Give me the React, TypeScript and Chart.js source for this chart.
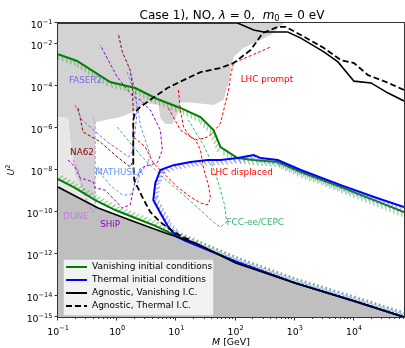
import React, { useEffect, useRef } from 'react';
import { Chart, registerables } from 'chart.js';
Chart.register(...registerables);

// axis ranges and ticks
const X_MIN = 0.1;
const X_MAX = 7e4;
const Y_MIN = 1e-15;
const Y_MAX = 0.1;
const X_TICKS = [0.1, 1, 10, 100, 1000, 10000];
const Y_TICKS = [1e-1, 1e-2, 1e-4, 1e-6, 1e-8, 1e-10, 1e-12, 1e-14, 1e-15];

// Vanishing initial conditions (green), upper and lower branch
const GREEN_UP_M = [0.1, 0.21, 0.76, 2.02, 4.76, 11.7, 25.5, 42.4, 55.7, 108, 202, 515, 1265, 6030, 21800, 7e4];
const GREEN_UP_U = [3.3e-3, 1.55e-3, 1.55e-4, 8.0e-5, 2.4e-5, 9.0e-6, 3.3e-6, 8.0e-7, 1.24e-7, 3.7e-8, 3.0e-8, 2.4e-8, 8.0e-9, 1.55e-9, 3.7e-10, 1.0e-10];
const GREEN_LO_M = [0.1, 0.194, 0.424, 0.925, 2.02, 4.4, 10, 104, 1000, 1e4, 7e4];
const GREEN_LO_U = [3.7e-9, 1.4e-9, 3.7e-10, 1.24e-10, 5.2e-11, 2.2e-11, 7.2e-12, 4.2e-13, 4.2e-14, 5.8e-15, 1.0e-15];

// Thermal initial conditions (blue)
const BLUE_M = [7e4, 21800, 6030, 1265, 515, 265, 202, 108, 55.7, 33.5, 17.3, 8.89, 5.36, 4.4, 4.07, 5.36, 7.32, 10.4, 14.2, 104, 1000, 1e4, 7e4];
const BLUE_U = [1.7e-10, 5.2e-10, 1.9e-9, 1.0e-8, 3.0e-8, 3.7e-8, 5.2e-8, 3.7e-8, 3.0e-8, 3.0e-8, 2.4e-8, 1.7e-8, 1.0e-8, 2.4e-9, 3.7e-10, 9.0e-11, 1.9e-11, 6.5e-12, 4.2e-12, 4.2e-13, 4.2e-14, 5.8e-15, 1.0e-15];

// Agnostic, vanishing I.C. (black solid)
const BLACK_UP_M = [0.1, 108, 202, 298, 761, 1265, 3100, 5360, 1e4, 19400, 37700, 7e4];
const BLACK_UP_U = [0.1, 0.1, 4.6e-2, 3.7e-2, 3.7e-2, 1.9e-2, 4.2e-3, 1.4e-3, 1.7e-4, 1.4e-4, 4.6e-5, 1.93e-5];
const BLACK_LO_M = [0.1, 0.476, 2.02, 6.51, 21.0, 100, 1000, 1e4, 7e4];
const BLACK_LO_U = [1.55e-9, 1.55e-10, 3.3e-11, 1.0e-11, 3.3e-12, 3.7e-13, 4.2e-14, 5.8e-15, 1.0e-15];

// Agnostic, thermal I.C. (black dashed)
const DASH_M = [7e4, 34800, 17300, 1e4, 6030, 3100, 1265, 704, 515, 287, 180, 92.5, 55.7, 25.5, 13.2, 7.04, 3.62, 2.45, 2.02, 1.87, 1.87, 1.94, 2.65, 3.62, 5.36, 8.55, 12.6, 17.3];
const DASH_U = [6.5e-5, 1.55e-4, 3.3e-4, 1.24e-3, 1.7e-3, 6.5e-3, 2.7e-2, 6.5e-2, 6.5e-2, 3.3e-2, 5.2e-3, 1.24e-3, 7.2e-4, 4.6e-4, 1.9e-4, 8.0e-5, 2.2e-5, 1.0e-5, 5.8e-6, 2.4e-6, 2.2e-8, 3.3e-9, 5.2e-10, 1.0e-10, 3.3e-11, 1.24e-11, 6.5e-12, 4.6e-12];

// excluded regions
const TOP_GREY_M = [0.1, 652, 392, 137, 92.5, 82.3, 76.1, 62.6, 42.4, 21.0, 11.7, 10.8, 8.55, 6.51, 5.36, 4.95, 2.98, 2.18, 1.87, 1.12, 0.424, 0.424, 0.287, 0.194, 0.16, 0.148, 0.1, 0.1];
const TOP_GREY_U = [0.1, 0.1, 2.7e-2, 6.5e-3, 2.4e-3, 5.8e-4, 1.4e-4, 2.2e-5, 1.24e-5, 1.55e-5, 1.7e-5, 5.8e-6, 1.55e-6, 1.55e-6, 3.0e-6, 1.24e-5, 1.55e-5, 9.0e-6, 5.8e-6, 3.3e-6, 1.9e-6, 5.2e-10, 6.5e-10, 5.8e-9, 2.7e-7, 3.0e-6, 3.3e-6, 0.1];
const LIGHT_GREY_M = [0.1, 0.148, 0.16, 0.194, 0.287, 0.476, 0.1, 0.1];
const LIGHT_GREY_U = [3.3e-6, 3.0e-6, 2.7e-7, 5.8e-9, 6.5e-10, 1.55e-10, 1.55e-9, 3.3e-6];

// experimental sensitivity contours
const FASER2_M = [0.194, 0.255, 0.678, 1.26, 1.54, 1.8, 2.02, 2.18, 2.02, 1.54];
const FASER2_U = [1.24e-5, 2.4e-6, 2.2e-7, 6.5e-8, 4.2e-8, 7.2e-8, 8.0e-7, 7.2e-6, 6.5e-5, 1.0e-3];
const NA62_M = [0.218, 0.265, 0.515, 1.0, 1.66, 1.87, 1.87, 1.8, 1.66, 1.22, 1.04];
const NA62_U = [9.0e-6, 6.5e-7, 2.2e-7, 4.2e-8, 1.4e-8, 3.0e-8, 5.2e-6, 1.1e-4, 5.8e-4, 4.2e-3, 3.3e-2];
const MATHUSLA_M = [1.48, 1.87, 2.27, 2.45, 2.98, 3.62, 3.22, 2.45, 2.18, 1.66, 1.22, 0.76, 0.515, 0.458];
const MATHUSLA_U = [4.6e-4, 6.5e-5, 7.2e-6, 1.4e-6, 2.7e-7, 5.2e-8, 1.7e-8, 8.0e-9, 1.9e-9, 6.5e-10, 6.5e-10, 1.9e-9, 7.2e-9, 1.7e-8];
const SHIP_M = [0.148, 0.194, 0.236, 0.392, 0.424, 0.626, 1.22, 1.66, 2.02, 2.76, 4.76, 5.79, 5.36, 3.62, 2.45, 1.87, 1.0, 0.515];
const SHIP_U = [3.0e-8, 1.4e-8, 4.2e-9, 2.7e-9, 1.4e-9, 1.1e-9, 1.55e-10, 2.2e-10, 3.3e-9, 1.4e-8, 2.2e-8, 9.0e-8, 8.0e-7, 7.2e-6, 2.2e-5, 3.0e-5, 2.7e-4, 9.0e-3];
const DUNE_M = [0.18, 0.218, 0.255, 0.322, 0.392, 0.424, 0.424, 0.392];
const DUNE_U = [3.0e-8, 1.0e-8, 1.9e-9, 2.2e-10, 1.0e-10, 1.24e-10, 1.7e-6, 3.0e-6];
const LHCP_M = [10.8, 11.7, 13.2, 17.3, 22.7, 33.5, 42.4, 55.7, 76.1, 82.3, 92.5, 392];
const LHCP_U = [6.5e-5, 7.2e-6, 1.1e-6, 3.7e-7, 2.7e-7, 3.7e-7, 6.5e-7, 1.7e-6, 6.5e-5, 3.3e-4, 1.24e-3, 7.2e-3];
const LHCD_M = [7.32, 11.7, 21.0, 25.5, 28.7, 34.8, 37.7, 33.5, 25.5, 17.3, 10.4, 7.04, 4.07, 2.98, 2.18, 1.87];
const LHCD_U = [9.0e-6, 8.0e-7, 2.7e-7, 9.0e-8, 1.24e-8, 1.9e-9, 4.6e-10, 2.2e-10, 2.7e-10, 5.2e-10, 1.55e-9, 4.6e-9, 2.2e-8, 1.24e-7, 2.7e-7, 3.7e-7];
const FCC_M = [1.0, 2.45, 5.36, 13.2, 25.5, 42.4, 55.7, 70.4, 65.1, 51.5, 37.7, 28.7, 21.0, 16.0];
const FCC_U = [1.1e-6, 5.2e-8, 5.8e-9, 6.5e-10, 1.24e-10, 3.3e-11, 1.9e-11, 3.3e-11, 2.2e-10, 2.4e-9, 3.0e-8, 1.55e-7, 6.5e-7, 2.4e-6];

// in-plot labels
const LABEL_TEXT = ['FASER2', 'NA62', 'MATHUSLA', 'DUNE', 'SHiP', 'LHC prompt', 'LHC displaced', 'FCC-ee/CEPC'];
const LABEL_M = [0.153, 0.16, 0.424, 0.122, 0.515, 122, 37.7, 70.4];
const LABEL_U = [1.7e-4, 6.5e-8, 7.2e-9, 5.8e-11, 2.4e-11, 1.9e-4, 7.2e-9, 3.0e-11];
const LABEL_COLOR = ['#7b68ee', '#8b0000', '#6495ed', '#c77ddf', '#9400d3', '#ff0000', '#ff0000', '#3cb371'];

const LEGEND_TEXT = ['Vanishing initial conditions', 'Thermal initial conditions', 'Agnostic, Vanishing I.C.', 'Agnostic, Thermal I.C.'];

const FONT = 'DejaVu Sans';
const pts = (m: number[], u: number[]) => m.map((x, i) => ({ x, y: u[i] }));

function supStr(v: number) {
  const e = Math.round(Math.log10(v));
  return (e < 0 ? '\u2212' : '') + String(Math.abs(e));
}

function drawParts(ctx: CanvasRenderingContext2D, parts: { t: string; f: string; dy?: number }[], x: number, y: number, align: string) {
  let total = 0;
  const ws = parts.map((p) => {
    ctx.font = p.f;
    const w = ctx.measureText(p.t).width;
    total += w;
    return w;
  });
  let x0 = align === 'center' ? x - total / 2 : align === 'right' ? x - total : x;
  ctx.textAlign = 'left';
  ctx.textBaseline = 'alphabetic';
  parts.forEach((p, i) => {
    ctx.font = p.f;
    ctx.fillText(p.t, x0, y + (p.dy || 0));
    x0 += ws[i];
  });
}

const hatchPlugin = {
  id: 'hatch',
  beforeDatasetDraw(chart: any, args: any) {
    const ds = chart.data.datasets[args.index];
    if (!ds.hatch) return;
    const p = args.meta.data;
    const { ctx, chartArea: a } = chart;
    const h = ds.hatch;
    ctx.save();
    ctx.beginPath();
    ctx.rect(a.left, a.top, a.right - a.left, a.bottom - a.top);
    ctx.clip();
    ctx.strokeStyle = h.color;
    ctx.lineWidth = h.width;
    const ang = (h.angle * Math.PI) / 180;
    const ca = Math.cos(ang), sa = Math.sin(ang);
    let carry = 0;
    ctx.beginPath();
    for (let i = 0; i < p.length - 1; i++) {
      const dx = p[i + 1].x - p[i].x, dy = p[i + 1].y - p[i].y;
      const L = Math.hypot(dx, dy);
      if (!L) continue;
      const ux = dx / L, uy = dy / L;
      const tx = ux * ca - uy * sa, ty = ux * sa + uy * ca;
      let s = carry;
      while (s < L) {
        const x = p[i].x + ux * s, y = p[i].y + uy * s;
        ctx.moveTo(x, y);
        ctx.lineTo(x + tx * h.len, y + ty * h.len);
        s += h.spacing;
      }
      carry = s - L;
    }
    ctx.stroke();
    ctx.restore();
  },
};

const decorPlugin = {
  id: 'decor',
  afterDatasetsDraw(chart: any) {
    const { ctx } = chart;
    const xs = chart.scales.x, ys = chart.scales.y;
    ctx.save();
    LABEL_TEXT.forEach((t, i) => {
      ctx.fillStyle = LABEL_COLOR[i];
      ctx.font = `8.8px ${FONT}`;
      ctx.textAlign = 'left';
      ctx.textBaseline = 'middle';
      ctx.fillText(t, xs.getPixelForValue(LABEL_M[i]), ys.getPixelForValue(LABEL_U[i]));
    });
    ctx.restore();
  },
  afterDraw(chart: any) {
    const { ctx, chartArea: a } = chart;
    const xs = chart.scales.x, ys = chart.scales.y;
    ctx.save();
    // frame
    ctx.strokeStyle = '#333';
    ctx.lineWidth = 1;
    ctx.strokeRect(Math.round(a.left) - 0.5, Math.round(a.top) - 0.5, Math.round(a.right - a.left) + 1, Math.round(a.bottom - a.top) + 1);
    // ticks
    ctx.beginPath();
    for (let e = -1; e <= 4; e++) {
      for (let k = 1; k <= 9; k++) {
        const v = k * Math.pow(10, e);
        if (v < X_MIN || v > X_MAX) continue;
        const px = Math.round(xs.getPixelForValue(v)) - 0.5;
        const len = k === 1 ? 3.5 : 2;
        ctx.moveTo(px, a.bottom);
        ctx.lineTo(px, a.bottom + len);
      }
    }
    Y_TICKS.forEach((v) => {
      const py = Math.round(ys.getPixelForValue(v)) - 0.5;
      ctx.moveTo(a.left, py);
      ctx.lineTo(a.left - 3.5, py);
    });
    ctx.stroke();
    ctx.fillStyle = '#000';
    const big = `9.4px ${FONT}`, small = `6.6px ${FONT}`;
    X_TICKS.forEach((v) => {
      drawParts(ctx, [{ t: '10', f: big }, { t: supStr(v), f: small, dy: -4.5 }], xs.getPixelForValue(v), a.bottom + 17.5, 'center');
    });
    Y_TICKS.forEach((v) => {
      drawParts(ctx, [{ t: '10', f: big }, { t: supStr(v), f: small, dy: -4.5 }], a.left - 5.5, ys.getPixelForValue(v) + 5, 'right');
    });
    // title
    const tn = `12px ${FONT}`, ti = `italic 12px ${FONT}`, ts = `8.4px ${FONT}`;
    drawParts(ctx, [
      { t: 'Case 1), NO, ', f: tn },
      { t: '\u03bb', f: ti },
      { t: ' = 0,  ', f: tn },
      { t: 'm', f: ti },
      { t: '0', f: ts, dy: 2 },
      { t: ' = 0 eV', f: tn },
    ], 232, 18.5, 'center');
    // axis titles
    drawParts(ctx, [{ t: 'M', f: `italic 9.4px ${FONT}` }, { t: ' [GeV]', f: big }], (a.left + a.right) / 2, 345, 'center');
    ctx.save();
    ctx.translate(14, (a.top + a.bottom) / 2);
    ctx.rotate(-Math.PI / 2);
    drawParts(ctx, [{ t: 'U', f: `italic 9.4px ${FONT}` }, { t: '2', f: small, dy: -4.5 }], 0, 0, 'center');
    ctx.restore();
    // legend
    const lx = 63.5, ly = 259.5, lw = 150, lh = 56;
    ctx.fillStyle = 'rgba(255,255,255,0.8)';
    ctx.strokeStyle = '#cccccc';
    ctx.lineWidth = 1;
    ctx.beginPath();
    ctx.roundRect(lx, ly, lw, lh, 2);
    ctx.fill();
    ctx.stroke();
    const colors = ['#008000', '#0000ff', '#000000', '#000000'];
    LEGEND_TEXT.forEach((t, i) => {
      const y = 267 + i * 13;
      ctx.strokeStyle = colors[i];
      ctx.lineWidth = 2;
      ctx.setLineDash(i === 3 ? [6, 3] : []);
      ctx.beginPath();
      ctx.moveTo(66, y);
      ctx.lineTo(87, y);
      ctx.stroke();
      ctx.setLineDash([]);
      ctx.fillStyle = '#000';
      ctx.font = `9px ${FONT}`;
      ctx.textAlign = 'left';
      ctx.textBaseline = 'middle';
      ctx.fillText(t, 92, y);
    });
    ctx.restore();
  },
};

export default function App() {
  const ref = useRef<HTMLCanvasElement>(null);
  useEffect(() => {
    document.body.style.margin = '0';
    const contour = (m: number[], u: number[], color: string) => ({
      data: pts(m, u),
      borderColor: color,
      borderWidth: 1,
      borderDash: [3, 2],
      pointRadius: 0,
      fill: false,
      order: 50,
    });
    const chart = new Chart(ref.current as HTMLCanvasElement, {
      type: 'line',
      data: {
        datasets: [
          { data: pts(TOP_GREY_M, TOP_GREY_U), fill: 'shape', backgroundColor: '#d3d3d3', borderWidth: 0, pointRadius: 0, order: 100 },
          { data: pts(LIGHT_GREY_M, LIGHT_GREY_U), fill: 'shape', backgroundColor: '#e8e8e8', borderWidth: 0, pointRadius: 0, order: 99 },
          { data: pts(BLACK_LO_M, BLACK_LO_U), fill: 'start', backgroundColor: '#bfbfbf', borderWidth: 0, pointRadius: 0, order: 98 },
          contour(FASER2_M, FASER2_U, '#7b68ee'),
          contour(NA62_M, NA62_U, '#8b0000'),
          contour(MATHUSLA_M, MATHUSLA_U, '#6495ed'),
          contour(SHIP_M, SHIP_U, '#9400d3'),
          contour(DUNE_M, DUNE_U, '#c77ddf'),
          contour(LHCP_M, LHCP_U, '#ff0000'),
          contour(LHCD_M, LHCD_U, '#ff0000'),
          contour(FCC_M, FCC_U, '#3cb371'),
          { data: pts(GREEN_UP_M, GREEN_UP_U), borderColor: '#008000', borderWidth: 2, pointRadius: 0, fill: false, order: 12, hatch: { color: 'rgba(80,170,80,0.55)', width: 1.4, angle: 60, len: 6, spacing: 4.3 } },
          { data: pts(GREEN_LO_M, GREEN_LO_U), borderColor: '#008000', borderWidth: 2, pointRadius: 0, fill: false, order: 11, hatch: { color: 'rgba(80,170,80,0.55)', width: 1.4, angle: -60, len: 6, spacing: 4.3 } },
          { data: pts(BLUE_M, BLUE_U), borderColor: '#0000ff', borderWidth: 2, pointRadius: 0, fill: false, order: 10, hatch: { color: 'rgba(90,110,240,0.55)', width: 1.4, angle: -120, len: 6, spacing: 4.3 } },
          { data: pts(BLACK_UP_M, BLACK_UP_U), borderColor: '#000', borderWidth: 1.6, pointRadius: 0, fill: false, order: 3 },
          { data: pts(BLACK_LO_M, BLACK_LO_U), borderColor: '#000', borderWidth: 1.6, pointRadius: 0, fill: false, order: 2 },
          { data: pts(DASH_M, DASH_U), borderColor: '#000', borderWidth: 1.8, borderDash: [6, 3], pointRadius: 0, fill: false, order: 1 },
        ] as any,
      },
      options: {
        responsive: false,
        devicePixelRatio: 1,
        animation: false,
        events: [],
        layout: { padding: { top: 23, right: 1, left: 0, bottom: 0 } },
        plugins: { legend: { display: false }, tooltip: { enabled: false }, title: { display: false } },
        scales: {
          x: {
            type: 'logarithmic', min: X_MIN, max: X_MAX,
            ticks: { display: false }, grid: { display: false }, border: { display: false },
            afterFit: (s: any) => { s.height = 31; },
          },
          y: {
            type: 'logarithmic', min: Y_MIN, max: Y_MAX,
            ticks: { display: false }, grid: { display: false }, border: { display: false },
            afterFit: (s: any) => { s.width = 58; },
          },
        },
      } as any,
      plugins: [hatchPlugin, decorPlugin],
    });
    return () => chart.destroy();
  }, []);
  return (
    <div style={{ width: 405, height: 348 }}>
      <canvas ref={ref} width={405} height={348} style={{ display: 'block' }} />
    </div>
  );
}
